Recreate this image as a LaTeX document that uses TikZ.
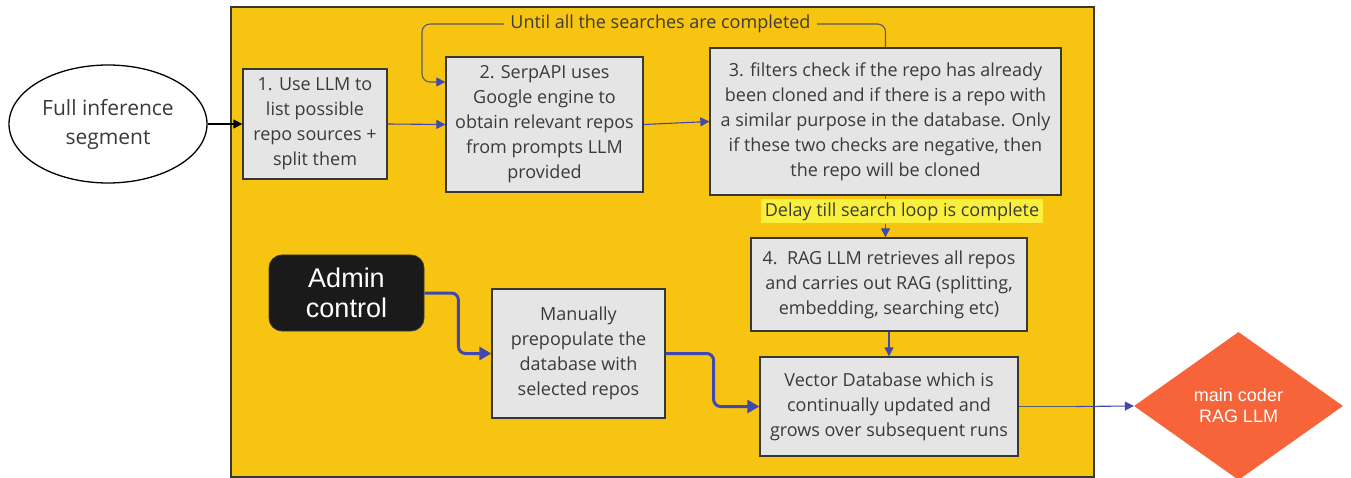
\documentclass[tikz,border=0pt]{standalone}
\usepackage{fontspec}
\setmainfont{Open Sans}
\newfontfamily\arialfont{Liberation Sans}
\usetikzlibrary{arrows.meta,shapes.geometric}

\definecolor{panelyellow}{RGB}{247,196,18}
\definecolor{boxgray}{RGB}{229,229,229}
\definecolor{edgegray}{RGB}{55,55,55}
\definecolor{textgray}{RGB}{58,58,58}
\definecolor{flowblue}{RGB}{64,72,176}
\definecolor{loopgray}{RGB}{90,90,105}
\definecolor{markyellow}{RGB}{250,240,60}
\definecolor{coderorange}{RGB}{248,100,58}
\definecolor{adminblack}{RGB}{26,26,26}

\tikzset{
  stepbox/.style={draw=edgegray, line width=1.3pt, fill=boxgray, text=textgray,
    align=center, inner sep=0pt, font=\fontsize{18}{25}\selectfont},
  flow/.style={draw=flowblue, line width=1.1pt,
    -{Triangle[length=9pt,width=9pt]}},
  thickflow/.style={draw=flowblue, line width=3pt, rounded corners=7pt,
    -{Triangle[length=12pt,width=13pt]}},
  plainline/.style={draw=loopgray, line width=1.1pt},
}

\begin{document}
\begin{tikzpicture}[x=1pt,y=-1pt]
\useasboundingbox (0,0) rectangle (1351,478);
\fill[white] (0,0) rectangle (1351,478);

% yellow working area
\node[draw=edgegray, line width=1.4pt, fill=panelyellow, minimum width=863pt,
      minimum height=470pt, inner sep=0pt] (area) at (662.5,242) {};

% entry point
\node[ellipse, draw=black, line width=1.3pt, fill=white, minimum width=198pt,
      minimum height=118pt, inner sep=0pt, align=center, text=textgray,
      font=\fontsize{21}{29}\selectfont] (seg) at (108,124) {Full inference\\segment};

% processing steps
\node[stepbox, minimum width=144pt, minimum height=110pt] (s1) at (315,124)
  {1. Use LLM to\\list possible\\repo sources +\\split them};
\node[stepbox, minimum width=197pt, minimum height=135pt] (s2) at (544.5,124.5)
  {2. SerpAPI uses\\Google engine to\\obtain relevant repos\\from prompts LLM\\provided};
\node[stepbox, minimum width=351pt, minimum height=147pt] (s3) at (885.5,121.5)
  {3. filters check if the repo has already\\been cloned and if there is a repo with\\a similar purpose in the database. Only\\if these two checks are negative, then\\the repo will be cloned};
\node[stepbox, minimum width=276pt, minimum height=93pt] (s4) at (889,284.5)
  {4.\ \ RAG LLM retrieves all repos\\and carries out RAG (splitting,\\embedding, searching etc)};
\node[stepbox, minimum width=258pt, minimum height=99pt] (vdb) at (889,406.5)
  {Vector Database which is\\continually updated and\\grows over subsequent runs};
\node[stepbox, minimum width=173pt, minimum height=129pt] (man) at (578.5,353.5)
  {Manually\\prepopulate the\\database with\\selected repos};

% admin input
\node[fill=adminblack, draw=edgegray, line width=0.8pt, rounded corners=13pt,
      minimum width=155pt, minimum height=76pt, inner sep=0pt, align=center,
      text=white, font=\arialfont\fontsize{27}{30}\selectfont] (admin) at (346.5,293)
  {Admin\\control};

% consumer
\node[diamond, fill=coderorange, minimum width=209pt, minimum height=148pt,
      inner sep=0pt, align=center, text=white,
      font=\arialfont\fontsize{18}{21}\selectfont] (coder) at (1238.5,406)
  {main coder\\RAG LLM};

% connectors
\draw[draw=black, line width=1.3pt, -{Triangle[length=9pt,width=9pt]}] (seg.east) -- (s1.west);
\draw[flow] (s1.east) -- (s2.west);
\draw[flow] (s2.east) -- (s3.west);

% search loop back to step 2
\draw[plainline, rounded corners=8pt,
      -{Triangle[length=9pt,width=9pt,color=flowblue]}]
  (s3.north) |- (422,24) |- ([yshift=42.5pt]s2.west);
\node[fill=panelyellow, text=textgray, inner xsep=6pt, inner ysep=1pt,
      font=\fontsize{18}{22}\selectfont] (looplabel) at (660.5,24)
  {Until all the searches are completed};

% delayed hand-over to step 4
\node[fill=markyellow, text=textgray, inner sep=0pt, minimum width=282pt,
      minimum height=24pt, font=\fontsize{18}{22}\selectfont] (delay) at (902,211.5)
  {Delay till search loop is complete};
\draw[plainline] (s3.south) -- (delay.north -| s3.south);
\draw[flow] (delay.south -| s3.south) -- (s3.south |- s4.north);

\draw[flow] (s4.south) -- (vdb.north);

% manual seeding of the database
\draw[thickflow] (admin.east) -- ++(34,0) |- (man.west);
\draw[thickflow] (man.east) -- ++(48,0) |- (vdb.west);

% output to the coder
\coordinate (handoff) at (1076,406.5);
\draw[plainline] (vdb.east) -- (handoff);
\draw[flow] (handoff) -- (coder.west);
\end{tikzpicture}
\end{document}
